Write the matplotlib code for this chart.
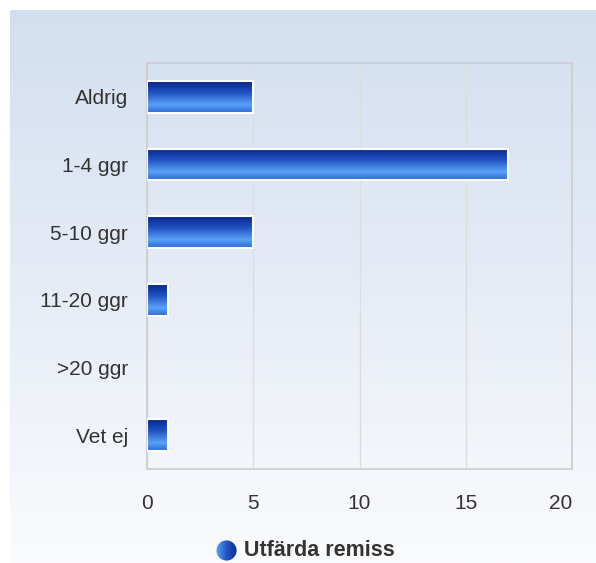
import numpy as np
import matplotlib
matplotlib.use("Agg")
from matplotlib import pyplot as plt
from matplotlib.colors import LinearSegmentedColormap
from matplotlib.patches import Rectangle, Circle

# Datos
categorias = ["Aldrig", "1-4 ggr", "5-10 ggr", "11-20 ggr", ">20 ggr", "Vet ej"]
valores = [5, 17, 5, 1, 0, 1]
serie = "Utfärda remiss"
xticks = [0, 5, 10, 15, 20]

plt.rcParams["font.family"] = ["Liberation Sans", "DejaVu Sans"]

W, H = 596, 563
fig = plt.figure(figsize=(W / 100, H / 100), dpi=100)

# Fondo con degradado
bg = fig.add_axes([10 / W, 0, (W - 10) / W, (H - 10) / H], zorder=-10)
bg_cmap = LinearSegmentedColormap.from_list("bg", ["#d3dfef", "#e6ecf6", "#fafbfd"])
bg.imshow(np.linspace(0, 1, 256).reshape(-1, 1), cmap=bg_cmap, aspect="auto",
          extent=(0, 1, 0, 1), origin="upper")
bg.set_axis_off()

# Ejes principales
ax = fig.add_axes([147 / W, 1 - 469 / H, (572 - 147) / W, (469 - 63) / H])
ax.set_facecolor("none")
ax.set_xlim(0, 20)
ax.set_ylim(len(categorias) - 0.5, -0.5)
ax.set_xticks(xticks)
ax.set_yticks(range(len(categorias)))
ax.set_yticklabels(categorias)
ax.tick_params(length=0, labelsize=15, colors="#333333")
ax.tick_params(axis="y", pad=13.5)
ax.tick_params(axis="x", pad=18)
# la última etiqueta del eje x queda dentro del gráfico
ax.get_xticklabels()[-1].set_horizontalalignment("right")
for s in ax.spines.values():
    s.set_color("#cccccc")
    s.set_linewidth(1.2)
ax.grid(axis="x", color="#dddddd", linewidth=1)
ax.set_axisbelow(True)

# Barras con degradado vertical
bar_cmap = LinearSegmentedColormap.from_list(
    "bar", [(0, "#08278a"), (0.35, "#1f50c0"), (0.75, "#5aa2f8"), (1, "#2a68d4")])
grad = np.linspace(0, 1, 64).reshape(-1, 1)
alto = 0.47
for i, v in enumerate(valores):
    if v <= 0:
        continue
    im = ax.imshow(grad, cmap=bar_cmap, aspect="auto",
                   extent=(0, v, i + alto / 2, i - alto / 2), zorder=2)
    rect = Rectangle((0, i - alto / 2), v, alto, transform=ax.transData,
                     facecolor="none", edgecolor="white", linewidth=1.5, zorder=3)
    ax.add_patch(rect)
    im.set_clip_path(rect)
ax.set_xlim(0, 20)
ax.set_ylim(len(categorias) - 0.5, -0.5)

# Leyenda
lax = fig.add_axes([216 / W, 1 - 561 / H, 21 / W, 21 / H])
lax.set_xlim(0, 1)
lax.set_ylim(0, 1)
circ = Circle((0.5, 0.5), 0.48, transform=lax.transData, facecolor="none", edgecolor="none")
lax.add_patch(circ)
lim = lax.imshow(np.linspace(0, 1, 64).reshape(1, -1),
                 cmap=LinearSegmentedColormap.from_list("leg", ["#5aa2f8", "#2356c4", "#0b2e8e"]),
                 aspect="auto", extent=(0, 1, 0, 1))
lim.set_clip_path(circ)
lax.set_axis_off()
fig.text(244 / W, 1 - 551 / H, serie, fontsize=15.5, fontweight="bold",
         color="#333333", va="center", ha="left")

fig.savefig("out.png", dpi=100)
